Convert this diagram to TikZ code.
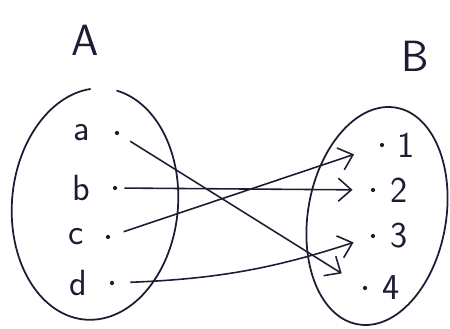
\documentclass[tikz,border=0pt]{standalone}
\usepackage{tikz}
\usetikzlibrary{arrows.meta,positioning}
\definecolor{ink}{RGB}{28,28,52}
\tikzset{
  setline/.style={draw=ink, line width=1pt},
  pt/.style={circle, fill=ink, inner sep=0pt, minimum size=2.4pt},
  elt/.style={font=\huge\sffamily, text=ink, inner sep=1pt},
  setname/.style={font=\Huge\sffamily, text=ink},
  maparrow/.style={-{Straight Barb[length=2.6mm,width=4.6mm]}, draw=ink, line width=0.9pt}
}
\begin{document}
\begin{tikzpicture}
  \useasboundingbox (0,0) rectangle (9,6.58);
  % the two sets
  \node[setname] (nameA) at (1.70,5.78) {A};
  \node[setname] (nameB) at (8.30,5.46) {B};
  \draw[setline, shift={(1.90,2.50)}, rotate=-5]
    (100:1.66 and 2.32) arc[start angle=100, end angle=442, x radius=1.66, y radius=2.32];
  \draw[setline, shift={(7.54,2.26)}, rotate=-10]
    (0:1.38 and 2.20) arc[start angle=0, end angle=360, x radius=1.38, y radius=2.20];
  % domain points
  \node[pt] (pa) at (2.34,3.92) {};
  \node[pt] (pb) at (2.30,2.82) {};
  \node[pt] (pc) at (2.16,1.84) {};
  \node[pt] (pd) at (2.24,0.92) {};
  \node[elt, left=0.45cm of pa] (la) {a};
  \node[elt, left=0.40cm of pb] (lb) {b};
  \node[elt, left=0.40cm of pc] (lc) {c};
  \node[elt, left=0.40cm of pd] (ld) {d};
  % codomain points
  \node[pt] (q1) at (7.64,3.68) {};
  \node[pt] (q2) at (7.46,2.78) {};
  \node[pt] (q3) at (7.46,1.86) {};
  \node[pt] (q4) at (7.30,0.82) {};
  \node[elt, right=0.22cm of q1] (l1) {1};
  \node[elt, right=0.26cm of q2] (l2) {2};
  \node[elt, right=0.26cm of q3] (l3) {3};
  \node[elt, right=0.26cm of q4] (l4) {4};
  % the mapping
  \draw[maparrow, shorten <=0.26cm, shorten >=0.50cm] (pa) -- (q4);
  \draw[maparrow, shorten <=0.14cm, shorten >=0.36cm] (pb) -- (q2);
  \draw[maparrow, shorten <=0.28cm, shorten >=0.54cm] (pc) -- (q1);
  \draw[maparrow, shorten <=0.32cm, shorten >=0.36cm] (pd) to[bend right=8] (q3);
\end{tikzpicture}
\end{document}
